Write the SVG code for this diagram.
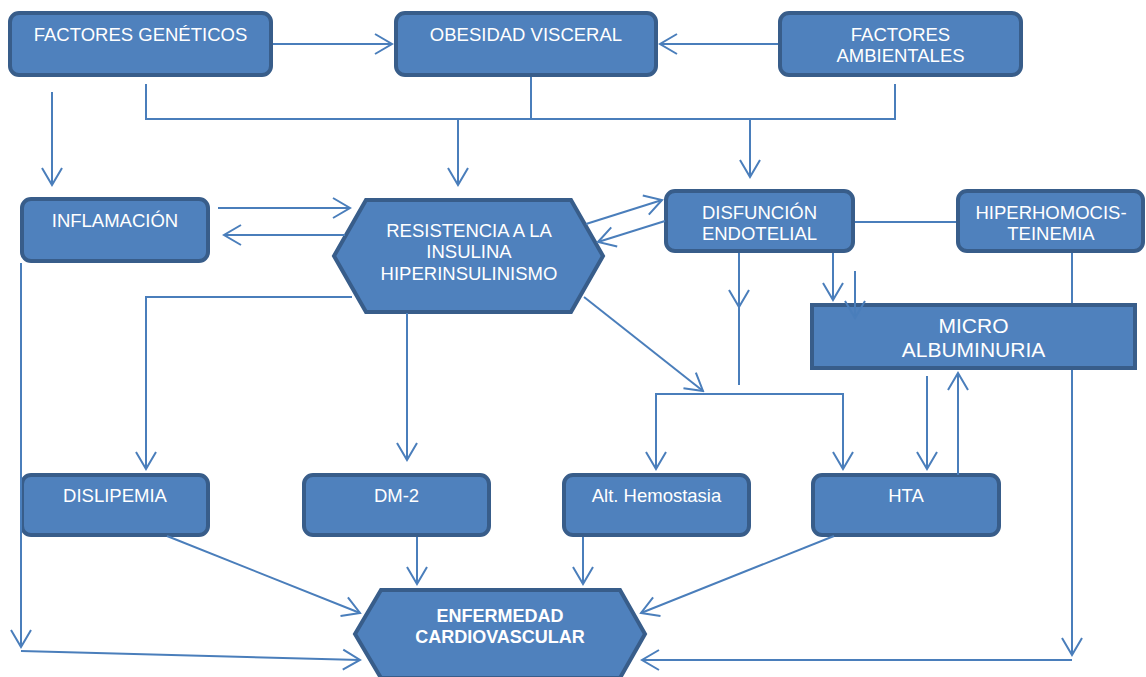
<svg xmlns="http://www.w3.org/2000/svg" width="1146" height="677" viewBox="0 0 1146 677">
<style>
.n{fill:#4f81bd;stroke:#385d8a;stroke-width:4}
.t{font-family:"Liberation Sans",Arial,sans-serif;font-size:18.5px;fill:#ffffff;text-anchor:middle}
.b{font-weight:bold;font-size:18px}
.big{font-size:21px}
.c{fill:none;stroke:#4a7ebb;stroke-width:2}
.a{marker-end:url(#arr)}
</style>
<defs>
<marker id="arr" viewBox="-19 -12 21 24" refX="0" refY="0" markerWidth="21" markerHeight="24" markerUnits="userSpaceOnUse" orient="auto">
<path d="M-17,-10 L0,0 L-17,10" fill="none" stroke="#4a7ebb" stroke-width="2"/>
</marker>
</defs>
<rect width="1146" height="677" fill="#ffffff"/>
<g id="factores-geneticos"><rect class="n" x="10" y="13" width="261" height="62" rx="9"/><text class="t" x="140.5" y="41">FACTORES GENÉTICOS</text></g>
<g id="obesidad-visceral"><rect class="n" x="396" y="13" width="260" height="62" rx="9"/><text class="t" x="526" y="41">OBESIDAD VISCERAL</text></g>
<g id="factores-ambientales"><rect class="n" x="780" y="13" width="241" height="62" rx="9"/><text class="t" x="900.5" y="41">FACTORES</text><text class="t" x="900.5" y="62">AMBIENTALES</text></g>
<g id="inflamacion"><rect class="n" x="22" y="199" width="186" height="62" rx="9"/><text class="t" x="115" y="227">INFLAMACIÓN</text></g>
<g id="resistencia"><polygon class="n" points="334,256 366,200 571,200 603,256 571,312 366,312"/><text class="t" x="469" y="237">RESISTENCIA A LA</text><text class="t" x="469" y="258">INSULINA</text><text class="t" x="469" y="280">HIPERINSULINISMO</text></g>
<g id="disfuncion-endotelial"><rect class="n" x="666" y="191" width="187" height="60" rx="9"/><text class="t" x="759.5" y="219">DISFUNCIÓN</text><text class="t" x="759.5" y="240">ENDOTELIAL</text></g>
<g id="hiperhomocisteinemia"><rect class="n" x="958" y="191" width="185" height="60" rx="9"/><text class="t" x="1051" y="219">HIPERHOMOCIS-</text><text class="t" x="1051" y="240">TEINEMIA</text></g>
<g id="microalbuminuria"><rect class="n" x="812" y="305" width="323" height="63"/><text class="t big" x="973.5" y="333">MICRO</text><text class="t big" x="973.5" y="357">ALBUMINURIA</text></g>
<g id="dislipemia"><rect class="n" x="22" y="475" width="186" height="60" rx="9"/><text class="t" x="115" y="502">DISLIPEMIA</text></g>
<g id="dm2"><rect class="n" x="304" y="475" width="185" height="60" rx="9"/><text class="t" x="396.5" y="502">DM-2</text></g>
<g id="alt-hemostasia"><rect class="n" x="564" y="475" width="185" height="60" rx="9"/><text class="t" x="656.5" y="502">Alt. Hemostasia</text></g>
<g id="hta"><rect class="n" x="813" y="475" width="186" height="60" rx="9"/><text class="t" x="906" y="502">HTA</text></g>
<g id="enfermedad-cardiovascular"><polygon class="n" points="355,634 381,590 620,590 645,634 620,678 381,678"/><text class="t b" x="500" y="622">ENFERMEDAD</text><text class="t b" x="500" y="643">CARDIOVASCULAR</text></g>
<g id="connectors">
<line class="c a" x1="273" y1="44" x2="392" y2="44"/>
<line class="c a" x1="778" y1="44" x2="660" y2="44"/>
<line class="c a" x1="52" y1="92" x2="52" y2="185"/>
<polyline class="c" points="146,84 146,119 895,119 895,84"/>
<line class="c" x1="531" y1="77" x2="531" y2="119"/>
<line class="c a" x1="458" y1="119" x2="458" y2="185"/>
<line class="c a" x1="750" y1="119" x2="750" y2="177"/>
<line class="c a" x1="218" y1="208" x2="350" y2="208"/>
<line class="c a" x1="345" y1="235" x2="224" y2="235"/>
<line class="c a" x1="586" y1="224" x2="662" y2="200"/>
<line class="c a" x1="665" y1="221" x2="598" y2="242"/>
<line class="c" x1="855" y1="222" x2="956" y2="222"/>
<line class="c a" x1="739" y1="253" x2="739" y2="307"/>
<line class="c" x1="739" y1="307" x2="739" y2="385"/>
<line class="c a" x1="833" y1="253" x2="833" y2="300"/>
<line class="c a" x1="855" y1="271" x2="855" y2="318"/>
<line class="c" x1="1072" y1="253" x2="1072" y2="303"/>
<line class="c a" x1="1072" y1="370" x2="1072" y2="655"/>
<line class="c a" x1="1072" y1="660" x2="642" y2="660"/>
<polyline class="c a" points="352,297 146,297 146,469"/>
<line class="c a" x1="407" y1="313" x2="407" y2="460"/>
<line class="c a" x1="584" y1="297" x2="703" y2="391"/>
<polyline class="c a" points="656,469 656,394 843,394 843,469"/>
<line class="c a" x1="656" y1="394" x2="656" y2="469"/>
<line class="c a" x1="927" y1="376" x2="927" y2="469"/>
<line class="c a" x1="958" y1="475" x2="958" y2="373"/>
<line class="c a" x1="21" y1="263" x2="21" y2="647"/>
<line class="c a" x1="21" y1="651" x2="360" y2="660"/>
<line class="c a" x1="167" y1="536" x2="360" y2="613"/>
<line class="c a" x1="417" y1="537" x2="417" y2="584"/>
<line class="c a" x1="583" y1="537" x2="583" y2="584"/>
<line class="c a" x1="834" y1="536" x2="641" y2="613"/>
</g>
</svg>
